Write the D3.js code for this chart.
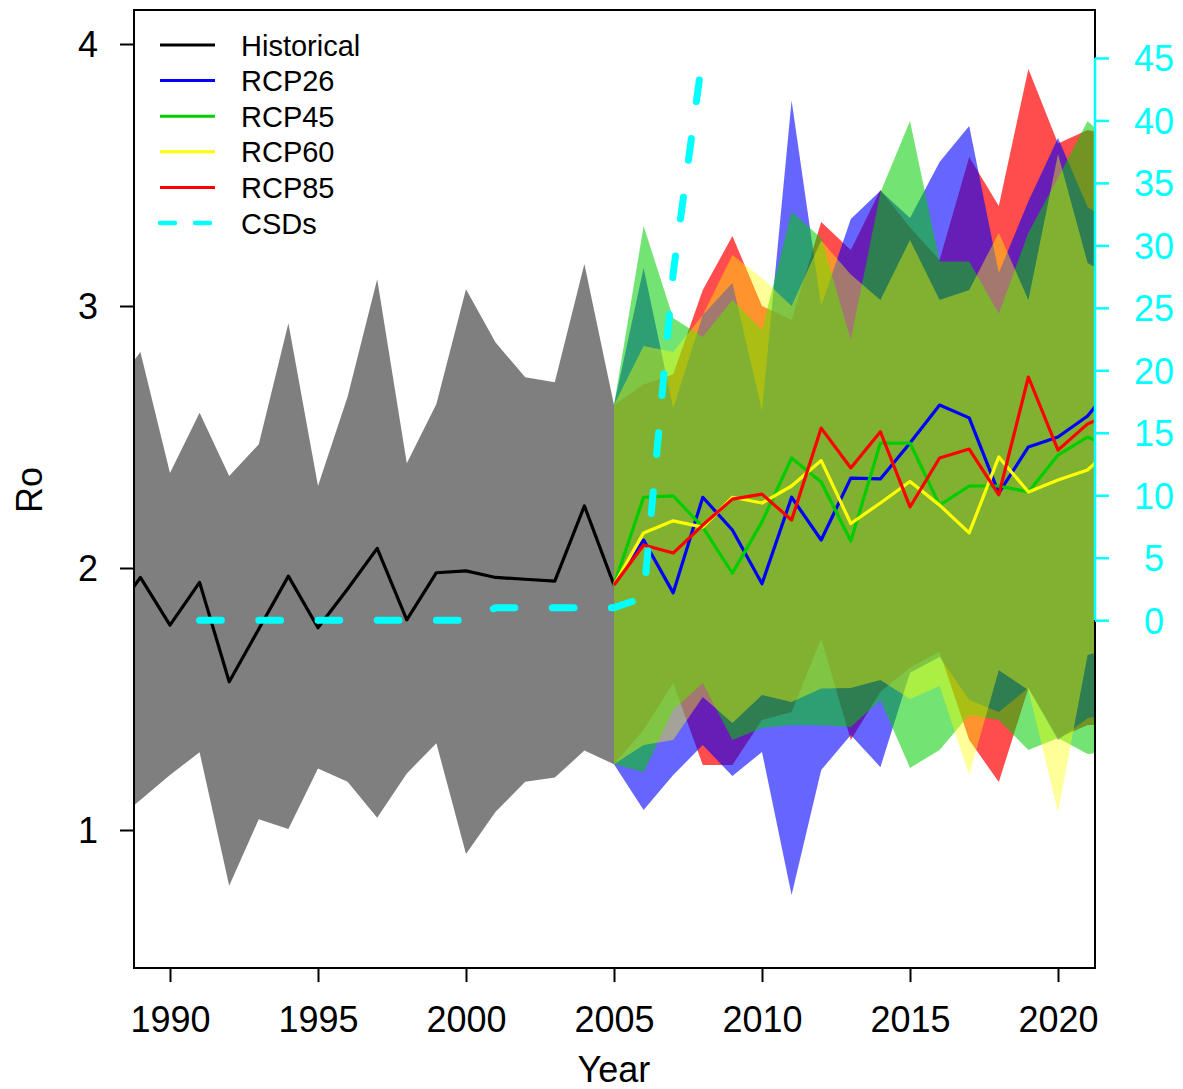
<!DOCTYPE html>
<html><head><meta charset="utf-8">
<script src="https://cdn.jsdelivr.net/npm/d3@7"></script>
<style>body{margin:0;background:#fff}svg{display:block}text{font-family:"Liberation Sans",Arial,Helvetica,sans-serif}</style>
</head><body><svg id="c" width="1183" height="1089"></svg>
<script>
// ---------- data ----------
const histYears = d3.range(1988, 2006);
const histMean  = [1.805,1.964,1.782,1.945,1.566,1.767,1.969,1.772,1.920,2.075,1.802,1.982,1.989,1.964,1.957,1.950,2.237,1.935];
const histUpper = [2.676,2.824,2.363,2.593,2.351,2.472,2.934,2.313,2.654,3.102,2.400,2.626,3.064,2.861,2.728,2.709,3.160,2.622];
const histLower = [1.020,1.115,1.210,1.297,0.787,1.041,1.004,1.235,1.184,1.047,1.216,1.331,0.908,1.070,1.184,1.200,1.303,1.251];

const futYears = d3.range(2005, 2023);
const rcp26Mean  = [1.935,2.107,1.905,2.270,2.145,1.940,2.270,2.107,2.343,2.340,2.477,2.622,2.573,2.286,2.462,2.500,2.580,2.720];
const rcp26Upper = [2.622,3.145,2.610,2.966,3.088,2.600,3.784,3.000,3.332,3.440,3.336,3.550,3.687,3.126,3.400,3.641,3.378,3.300];
const rcp26Lower = [1.251,1.076,1.210,1.324,1.206,1.298,0.752,1.229,1.363,1.240,1.600,1.660,1.496,1.450,1.542,1.344,1.427,1.450];
const rcp45Mean  = [1.935,2.270,2.275,2.156,1.980,2.176,2.420,2.328,2.103,2.477,2.477,2.240,2.313,2.313,2.290,2.431,2.500,2.450];
const rcp45Upper = [2.622,3.305,2.954,2.882,3.023,2.908,3.359,3.260,2.870,3.433,3.706,3.170,3.170,2.970,3.280,3.490,3.706,3.600];
const rcp45Lower = [1.251,1.221,1.458,1.561,1.344,1.389,1.401,1.400,1.393,1.496,1.237,1.305,1.439,1.420,1.305,1.351,1.290,1.300];
const rcp60Mean  = [1.935,2.134,2.180,2.156,2.270,2.248,2.313,2.410,2.170,2.248,2.330,2.240,2.134,2.424,2.290,2.336,2.374,2.480];
const rcp60Upper = [2.622,2.847,2.824,2.966,3.195,3.107,3.000,3.250,3.120,3.023,3.252,3.023,3.061,3.280,3.023,3.580,3.164,3.100];
const rcp60Lower = [1.251,1.324,1.344,1.508,1.408,1.515,1.489,1.540,1.542,1.573,1.500,1.550,1.210,1.610,1.534,1.069,1.668,1.700];
const rcp85Mean  = [1.935,2.088,2.057,2.164,2.263,2.282,2.183,2.534,2.382,2.520,2.233,2.420,2.454,2.279,2.729,2.450,2.550,2.600];
const rcp85Upper = [2.622,2.700,2.740,3.061,3.267,3.000,2.947,3.321,3.214,3.443,3.300,3.176,3.569,3.382,3.905,3.620,3.672,3.650];
const rcp85Lower = [1.251,1.382,1.561,1.248,1.248,1.420,1.450,1.730,1.344,1.527,1.620,1.680,1.344,1.183,1.542,1.351,1.401,1.400];

const csdYears = d3.range(1991, 2009);
const csdValues = [0,0,0,0,0,0,0,0,0,0,1,1,1,1,1,1.8,27.8,45.3];

const yTicks = [1,2,3,4];
const xTicks = [1990,1995,2000,2005,2010,2015,2020];
const y2Ticks = [0,5,10,15,20,25,30,35,40,45];
const legendLabels = ["Historical","RCP26","RCP45","RCP60","RCP85","CSDs"];
const legendColors = ["#000000","#0000ff","#00cd00","#ffff00","#ff0000","#00ffff"];

// ---------- layout ----------
const L = 134, R = 1095, T = 10, B = 968;
const svg = d3.select("#c");
const x = d3.scaleLinear().domain([1988.784, 2021.25]).range([L, R]);
const y = d3.scaleLinear().domain([0.4733, 4.1298]).range([B, T]);
const y2 = d3.scaleLinear().domain([-27.84, 48.84]).range([B, T]);

svg.append("defs").append("clipPath").attr("id","clip")
  .append("rect").attr("x",L).attr("y",T).attr("width",R-L).attr("height",B-T);
const g = svg.append("g").attr("clip-path","url(#clip)");

function band(years, lo, hi){
  return d3.area().x((d,i)=>x(years[i])).y0((d,i)=>y(lo[i])).y1((d,i)=>y(hi[i]))(years);
}
function line(years, vals, ys){
  return d3.line().x((d,i)=>x(years[i])).y((d,i)=>(ys||y)(vals[i]))(years);
}

g.append("path").attr("d", band(histYears, histLower, histUpper)).attr("fill","#7f7f7f");
const bands = [
  [rcp85Lower, rcp85Upper, "#ff0000", 0.7],
  [rcp26Lower, rcp26Upper, "#0000ff", 0.6],
  [rcp45Lower, rcp45Upper, "#00cd00", 0.55],
  [rcp60Lower, rcp60Upper, "#ffff00", 0.4]
];
bands.forEach(b => g.append("path").attr("d", band(futYears, b[0], b[1]))
  .attr("fill", b[2]).attr("fill-opacity", b[3]));

g.append("path").attr("d", line(histYears, histMean)).attr("fill","none").attr("stroke","#000").attr("stroke-width",3.2).attr("stroke-linejoin","round");
[[rcp26Mean,"#0000ff"],[rcp45Mean,"#00cd00"],[rcp60Mean,"#ffff00"],[rcp85Mean,"#ff0000"]].forEach(m =>
  g.append("path").attr("d", line(futYears, m[0])).attr("fill","none").attr("stroke",m[1]).attr("stroke-width",3.2).attr("stroke-linejoin","round"));

g.append("path").attr("d", line(csdYears, csdValues, y2)).attr("fill","none").attr("stroke","#00ffff")
  .attr("stroke-width",7).attr("stroke-dasharray","21.8,37.4").attr("stroke-linecap","round").attr("stroke-linejoin","round");

// box
svg.append("rect").attr("x",L).attr("y",T).attr("width",R-L).attr("height",B-T)
  .attr("fill","none").attr("stroke","#000").attr("stroke-width",2);

// axes
const ax = svg.append("g").attr("transform",`translate(0,${B})`)
  .call(d3.axisBottom(x).tickValues(xTicks).tickFormat(d3.format("d")).tickSize(14).tickPadding(24));
const ay = svg.append("g").attr("transform",`translate(${L},0)`)
  .call(d3.axisLeft(y).tickValues(yTicks).tickFormat(d3.format("d")).tickSize(14).tickPadding(22));
const ay2 = svg.append("g").attr("transform",`translate(${R},0)`)
  .call(d3.axisRight(y2).tickValues(y2Ticks).tickFormat(d3.format("d")).tickSize(14).tickPadding(33));
[ax, ay].forEach(a => {
  a.select(".domain").remove();
  a.selectAll("line").attr("stroke","#000").attr("stroke-width",2);
  a.selectAll("text").attr("font-size",36).attr("fill","#000");
});
ax.selectAll("text").attr("dy","0.72em");
ay.selectAll("text").attr("text-anchor","middle").attr("dx","-10");
ay.selectAll("text").attr("dy","0.36em");
ay2.select(".domain").attr("stroke","#00ffff").attr("stroke-width",2.5)
  .attr("d", `M0,${y2(0)}V${y2(45)}`);
ay2.selectAll("line").attr("stroke","#00ffff").attr("stroke-width",2.5);
ay2.selectAll("text").attr("font-size",36).attr("fill","#00ffff").attr("text-anchor","middle").attr("dx","12").attr("dy","0.36em");

svg.append("text").attr("x", x(2005)).attr("y", 1082).attr("text-anchor","middle").attr("font-size",36).text("Year");
svg.append("text").attr("transform","translate(42,490) rotate(-90)").attr("text-anchor","middle").attr("font-size",36).text("Ro");

// legend
const lg = svg.append("g");
legendLabels.forEach((lab,i) => {
  const yy = 45 + i*35.6;
  const isDash = i === 5;
  lg.append("line").attr("x1",160).attr("x2",215).attr("y1",yy).attr("y2",yy)
    .attr("stroke",legendColors[i]).attr("stroke-width", isDash?4.5:3)
    .attr("stroke-dasharray", isDash?"15,20":null)
    .attr("stroke-linecap", isDash?"round":"butt");
  lg.append("text").attr("x",241).attr("y",yy+10.5).attr("font-size",29).text(lab);
});
</script></body></html>
